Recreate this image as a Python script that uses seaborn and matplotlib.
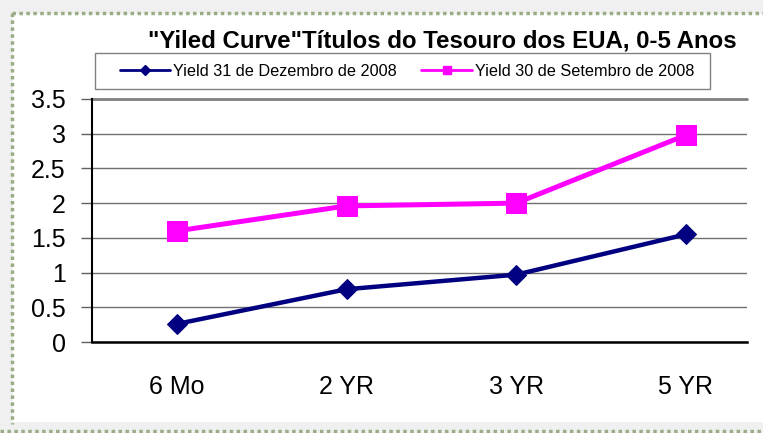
import matplotlib
matplotlib.use("Agg")
import matplotlib.pyplot as plt
import seaborn as sns
import pandas as pd
from matplotlib.lines import Line2D
from matplotlib.patches import Rectangle

# Data
categories = ["6 Mo", "2 YR", "3 YR", "5 YR"]
yield_dec_2008 = [0.26, 0.76, 0.97, 1.55]
yield_sep_2008 = [1.60, 1.96, 2.00, 2.98]
series_names = ["Yield 31 de Dezembro de 2008", "Yield 30 de Setembro de 2008"]
title = "\"Yiled Curve\"Títulos do Tesouro dos EUA, 0-5 Anos"

sns.set_style("white")
plt.rcParams["font.family"] = ["Liberation Sans", "DejaVu Sans"]
plt.rcParams["text.color"] = "black"
plt.rcParams["xtick.color"] = "black"
plt.rcParams["ytick.color"] = "black"

W, H = 763, 433
fig = plt.figure(figsize=(W / 100, H / 100), dpi=100, facecolor="#f0f0f0")

# white panel and dotted green border like the spreadsheet frame
fig.patches.append(Rectangle((13 / W, 1 - 422 / H), 1, (422 - 14) / H,
                             transform=fig.transFigure, facecolor="white",
                             edgecolor="none", zorder=-2))
border = dict(transform=fig.transFigure, color="#9aac86", lw=2.5, ls=(0, (1, 1)))
fig.lines.append(Line2D([12 / W, 1], [1 - 13 / H] * 2, **border))
fig.lines.append(Line2D([12 / W] * 2, [1 - 13 / H, 1 - 424 / H], **border))
fig.lines.append(Line2D([0, 1], [1 - 431 / H] * 2, **border))

ax = fig.add_axes([92 / W, 1 - 342 / H, (747 - 92) / W, (342 - 99) / H])
ax.set_facecolor("white")

df = pd.DataFrame({"cat": categories, "dec": yield_dec_2008, "sep": yield_sep_2008})

sns.lineplot(data=df, x="cat", y="dec", ax=ax, color="#000080", lw=3.2,
             marker="D", markersize=10, markeredgecolor="#000080", sort=False, zorder=4)
sns.lineplot(data=df, x="cat", y="sep", ax=ax, color="#ff00ff", lw=3.6,
             marker="s", markersize=15, markeredgecolor="#ff00ff", sort=False, zorder=4)

ax.set_ylim(0, 3.5)
ax.set_xlim(-0.5, 3.36)
ax.set_yticks([0, 0.5, 1, 1.5, 2, 2.5, 3, 3.5])
ax.set_yticklabels(["0", "0.5", "1", "1.5", "2", "2.5", "3", "3.5"])
ax.set_xticks(range(len(categories)))
ax.set_xticklabels(categories)
ax.set_xticks([-0.5, 0.5, 1.5, 2.5], minor=True)
ax.tick_params(axis="x", which="major", length=0, labelsize=18, pad=24)
ax.tick_params(axis="x", which="minor", length=7, width=1, color="#606060", direction="out")
ax.tick_params(axis="y", length=8, width=1, color="#606060", direction="out",
               labelsize=18, left=True, pad=11)
ax.set_xlabel("")
ax.set_ylabel("")

ax.grid(axis="y", color="#707070", lw=1)
ax.grid(axis="x", visible=False)
ax.set_axisbelow(True)
for s in ["top", "right"]:
    ax.spines[s].set_visible(False)
ax.axhline(3.5, color="#808080", lw=2, zorder=1, clip_on=False)
ax.spines["left"].set_color("black")
ax.spines["left"].set_linewidth(1.5)
ax.spines["bottom"].set_color("black")
ax.spines["bottom"].set_linewidth(1.8)

fig.text(442 / W, 1 - 41 / H, title, ha="center", va="center",
         fontsize=17.3, fontweight="bold")

# legend box drawn separately so its padding matches the original
fig.patches.append(Rectangle((95 / W, 1 - 89 / H), (710 - 95) / W, (89 - 53) / H,
                             transform=fig.transFigure, facecolor="white",
                             edgecolor="#808080", lw=1, zorder=1))
handles = [
    Line2D([], [], color="#000080", lw=2, marker="D", markersize=5),
    Line2D([], [], color="#ff00ff", lw=2, marker="s", markersize=6),
]
leg = fig.legend(handles, series_names, loc="center",
                 bbox_to_anchor=(407 / W, 1 - 71 / H), ncol=2, fontsize=11.7,
                 frameon=False, handlelength=3.1, handletextpad=0.2,
                 columnspacing=1.5, borderpad=0.3)

fig.savefig("out.png", dpi=100, facecolor=fig.get_facecolor())
